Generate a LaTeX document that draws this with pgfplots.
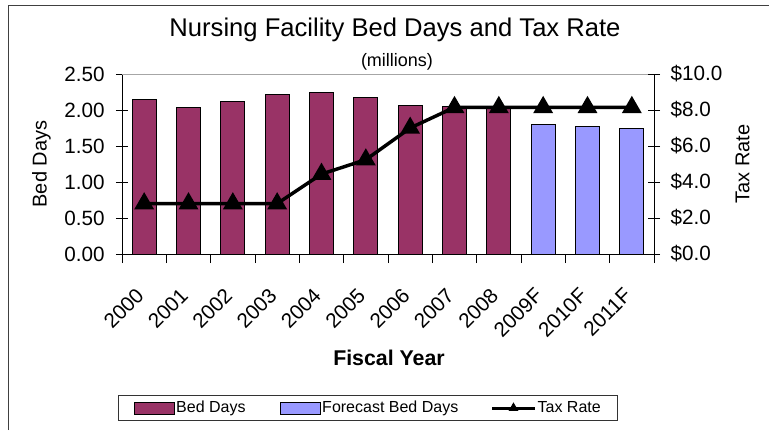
\documentclass[border=0pt]{standalone}
\usepackage{pgfplots}
\pgfplotsset{compat=1.18}
\usepackage{fontspec}
\setmainfont{Liberation Sans}
\definecolor{maroon}{HTML}{993366}
\definecolor{lav}{HTML}{9999FF}
\begin{document}
\begin{tikzpicture}
\useasboundingbox (0,0) rectangle (576.75pt,-322.5pt);
\draw[black!75, line width=0.75pt] (6pt,-322.5pt) -- (6pt,-3.75pt) -- (576.75pt,-3.75pt);
\node[anchor=base, font=\fontsize{19.2}{23}\selectfont] at (296.25pt,-27pt) {Nursing Facility Bed Days and Tax Rate};
\node[anchor=base, font=\fontsize{13.5}{16}\selectfont] at (297.75pt,-49.5pt) {(millions)};
\node[anchor=base, font=\bfseries\fontsize{16}{19}\selectfont] at (291.75pt,-273.75pt) {Fiscal Year};
\node[rotate=90, font=\fontsize{15}{18}\selectfont] at (31pt,-123pt) {Bed Days};
\node[rotate=90, font=\fontsize{15}{18}\selectfont] at (557pt,-123pt) {Tax Rate};
\begin{axis}[
  at={(91.5pt,-190.5pt)}, anchor=south west,
  scale only axis, width=399pt, height=135pt,
  xmin=-0.5, xmax=11.5, ymin=0, ymax=2.5,
  axis x line*=bottom, axis y line*=left,
  axis line style={-, line width=0.75pt, black},
  xtick={0,...,11},
  xticklabels={2000,2001,2002,2003,2004,2005,2006,2007,2008,2009F,2010F,2011F},
  major x tick style={draw=none},
  minor xtick={-0.5,0.5,...,11.5},
  minor tick length=6.75pt,
  xtick align=outside,
  ytick align=center,
  ytick={0,0.5,...,2.5},
  major tick length=9pt,
  tick style={black, line width=0.75pt},
  yticklabel={\pgfmathprintnumber[fixed,fixed zerofill,precision=2,assume math mode=true]{\tick}},
  tick label style={font=\fontsize{15.5}{18}\selectfont},
  yticklabel style={xshift=-5pt},
  xticklabel style={rotate=45, anchor=east, xshift=-12.5pt, yshift=-11.5pt},
  legend columns=3,
  legend style={at={(0.4624,-0.8556)}, anchor=center, draw=black!80, line width=0.75pt,
    font=\fontsize{12}{14}\selectfont, inner xsep=11.5pt, inner ysep=2.5pt,
    nodes={inner xsep=1pt, inner ysep=2pt},
    /tikz/column 2/.style={column sep=24.75pt},
    /tikz/column 4/.style={column sep=23.25pt}},
]
\addplot[ybar, bar width=18pt, bar shift=0pt, fill=maroon, draw=black, line width=0.75pt,
  legend image code/.code={\draw[fill=maroon, draw=black, line width=0.75pt] (0pt,-4.5pt) rectangle (30pt,4.5pt);}]
  coordinates {(0,2.15) (1,2.03) (2,2.12) (3,2.21) (4,2.24) (5,2.18) (6,2.06) (7,2.05) (8,2.05)};
\addlegendentry{Bed Days}
\addplot[ybar, bar width=18pt, bar shift=0pt, fill=lav, draw=black, line width=0.75pt,
  legend image code/.code={\draw[fill=lav, draw=black, line width=0.75pt] (0pt,-4.5pt) rectangle (30pt,4.5pt);}]
  coordinates {(9,1.80) (10,1.77) (11,1.74)};
\addlegendentry{Forecast Bed Days}
\addlegendimage{legend image code/.code={\draw[black, line width=2.25pt] (0pt,0pt) -- (32pt,0pt);
  \draw[black, mark=triangle*, mark size=3.5pt] plot coordinates {(16pt,0pt)};}}
\addlegendentry{Tax Rate}
\draw[gray!70, line width=0.75pt] (rel axis cs:0,1) -- (rel axis cs:1,1);
\end{axis}
\begin{axis}[
  at={(91.5pt,-190.5pt)}, anchor=south west,
  scale only axis, width=399pt, height=135pt,
  xmin=-0.5, xmax=11.5, ymin=0, ymax=10,
  axis x line=none, axis y line*=right,
  axis line style={-, line width=0.75pt, black},
  ytick={0,2,...,10}, ytick align=center, major tick length=9pt,
  tick style={black, line width=0.75pt},
  yticklabel={\$\pgfmathprintnumber[fixed,fixed zerofill,precision=1,assume math mode=true]{\tick}},
  tick label style={font=\fontsize{15.5}{18}\selectfont},
  yticklabel style={xshift=4.5pt},
]
\addplot[black, line width=2.6pt, mark=triangle*, mark size=6pt, mark options={solid}]
  coordinates {(0,2.8) (1,2.8) (2,2.8) (3,2.8) (4,4.44) (5,5.24) (6,7.0) (7,8.15) (8,8.15) (9,8.15) (10,8.15) (11,8.15)};
\end{axis}
\end{tikzpicture}
\end{document}
